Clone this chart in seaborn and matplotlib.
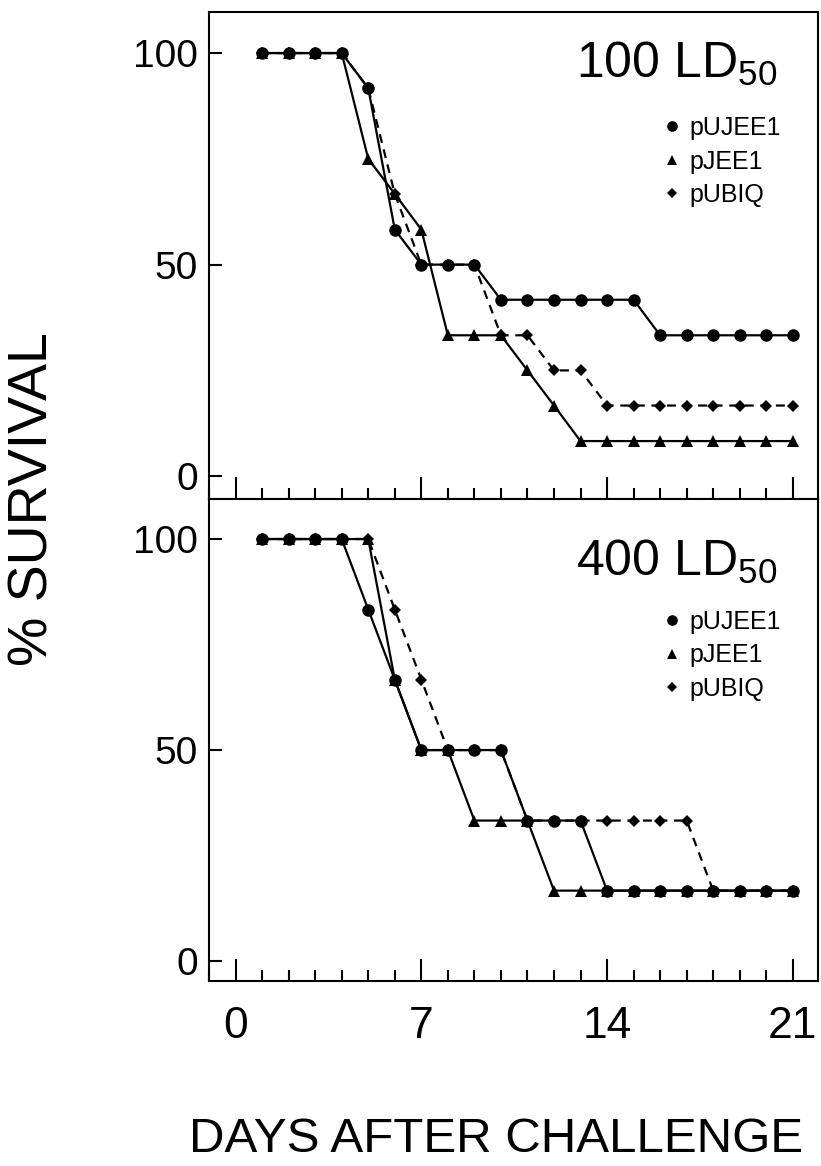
import numpy as np
import pandas as pd
import matplotlib
matplotlib.use("Agg")
import matplotlib.pyplot as plt
from matplotlib.ticker import MultipleLocator, FixedLocator
from matplotlib.lines import Line2D
import seaborn as sns

# data (% survival, days 1..21)
days = list(range(1, 22))
constructs = ["pUJEE1", "pJEE1", "pUBIQ"]

ld100_pUJEE1 = [100, 100, 100, 100, 91.7, 58.3, 50, 50, 50, 41.7, 41.7, 41.7, 41.7, 41.7, 41.7, 33.3, 33.3, 33.3, 33.3, 33.3, 33.3]
ld100_pJEE1 = [100, 100, 100, 100, 75, 66.7, 58.3, 33.3, 33.3, 33.3, 25, 16.7, 8.3, 8.3, 8.3, 8.3, 8.3, 8.3, 8.3, 8.3, 8.3]
ld100_pUBIQ = [100, 100, 100, 100, 91.7, 66.7, 50, 50, 50, 33.3, 33.3, 25, 25, 16.7, 16.7, 16.7, 16.7, 16.7, 16.7, 16.7, 16.7]

ld400_pUJEE1 = [100, 100, 100, 100, 83.3, 66.7, 50, 50, 50, 50, 33.3, 33.3, 33.3, 16.7, 16.7, 16.7, 16.7, 16.7, 16.7, 16.7, 16.7]
ld400_pJEE1 = [100, 100, 100, 100, 100, 66.7, 50, 50, 33.3, 33.3, 33.3, 16.7, 16.7, 16.7, 16.7, 16.7, 16.7, 16.7, 16.7, 16.7, 16.7]
ld400_pUBIQ = [100, 100, 100, 100, 100, 83.3, 66.7, 50, 50, 50, 33.3, 33.3, 33.3, 33.3, 33.3, 33.3, 33.3, 16.7, 16.7, 16.7, 16.7]

panel_titles = [r"100 LD$_{\mathregular{50}}$", r"400 LD$_{\mathregular{50}}$"]
x_ticks = [0, 7, 14, 21]
y_ticks = [0, 50, 100]

sns.set_style("ticks")
plt.rcParams["font.family"] = ["Liberation Sans", "DejaVu Sans"]
plt.rcParams["mathtext.default"] = "regular"
plt.rcParams["text.color"] = "black"
plt.rcParams["xtick.color"] = "black"
plt.rcParams["ytick.color"] = "black"
plt.rcParams["xtick.labelcolor"] = "black"
plt.rcParams["ytick.labelcolor"] = "black"

markers = {"pUJEE1": "o", "pJEE1": "^", "pUBIQ": "D"}
msizes = {"pUJEE1": 9, "pJEE1": 8, "pUBIQ": 6.5}
dashes = {"pUJEE1": "-", "pJEE1": "-", "pUBIQ": (0, (4, 3))}


def make_df(a, b, c):
    frames = []
    for name, vals in zip(constructs, [a, b, c]):
        frames.append(pd.DataFrame({"day": days, "survival": vals, "construct": name}))
    return pd.concat(frames, ignore_index=True)


panels = [make_df(ld100_pUJEE1, ld100_pJEE1, ld100_pUBIQ),
          make_df(ld400_pUJEE1, ld400_pJEE1, ld400_pUBIQ)]

fig = plt.figure(figsize=(8.21, 11.66), dpi=100)
ax_top = fig.add_axes([0.2546, 0.5720, 0.7418, 0.4177])
ax_bot = fig.add_axes([0.2546, 0.1587, 0.7418, 0.4134])
axes = [ax_top, ax_bot]
ylims = [(-5.4, 109.7), (-4.7, 109.5)]
legend_tops = [0.786, 0.770]
label_y = [0.893, 0.870]

for i, (ax, df) in enumerate(zip(axes, panels)):
    # dashed series first so the circles sit on top
    for name in ["pUBIQ", "pJEE1", "pUJEE1"]:
        sub = df[df["construct"] == name]
        sns.lineplot(data=sub, x="day", y="survival", ax=ax, color="black",
                     marker=markers[name], markersize=msizes[name],
                     markeredgewidth=0, linewidth=1.6, linestyle=dashes[name],
                     errorbar=None, legend=False)
    ax.set_xlim(-1.0, 21.95)
    ax.set_ylim(*ylims[i])
    ax.xaxis.set_major_locator(FixedLocator(x_ticks))
    ax.xaxis.set_minor_locator(MultipleLocator(1))
    ax.yaxis.set_major_locator(FixedLocator(y_ticks))
    ax.tick_params(axis="x", which="major", direction="in", length=16, width=1.5, pad=18, labelsize=32)
    ax.tick_params(axis="x", which="minor", direction="in", length=8, width=1.5)
    ax.tick_params(axis="y", which="major", direction="in", length=9, width=1.5, pad=8, labelsize=28)
    for sp in ax.spines.values():
        sp.set_linewidth(1.5)
        sp.set_color("black")
    ax.set_xlabel("")
    ax.set_ylabel("")
    ax.text(0.933, label_y[i], panel_titles[i], transform=ax.transAxes,
            ha="right", va="center", fontsize=36)
    handles = [Line2D([], [], color="black", marker=markers[n], linestyle="none",
                      markersize=msizes[n] * 0.85, markeredgewidth=0) for n in constructs]
    ax.legend(handles, constructs, loc="upper left", bbox_to_anchor=(0.744, legend_tops[i]),
              frameon=False, fontsize=18, handlelength=0.8, handletextpad=0.3,
              labelspacing=0.38, borderpad=0, borderaxespad=0)

ax_top.tick_params(axis="x", labelbottom=False)

fig.text(0.041, 0.572, "% SURVIVAL", rotation=90, ha="center", va="center", fontsize=40)
fig.text(0.230, 0.0223, "DAYS AFTER CHALLENGE", ha="left", va="center", fontsize=35.5)

fig.savefig("out.png", dpi=100)
